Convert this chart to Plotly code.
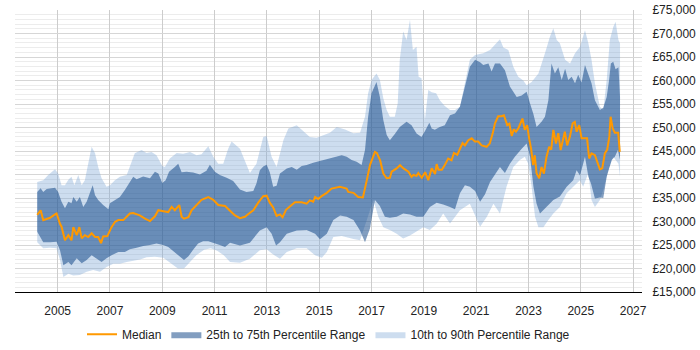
import plotly.graph_objects as go

# ---- Data (decimal years, salary in GBP) ----
median_x = [2004.22, 2004.35, 2004.45, 2004.58, 2004.71, 2004.9, 2004.96, 2005.09, 2005.15, 2005.28,
            2005.41, 2005.53, 2005.6, 2005.73, 2005.83, 2005.92, 2006.04, 2006.17, 2006.3, 2006.43,
            2006.55, 2006.66, 2006.74, 2006.9, 2007.06, 2007.19, 2007.32, 2007.51, 2007.64, 2007.76,
            2007.89, 2008.02, 2008.14, 2008.34, 2008.53, 2008.72, 2008.85, 2009.04, 2009.23, 2009.36,
            2009.48, 2009.65, 2009.74, 2009.83, 2010.0, 2010.12, 2010.31, 2010.5, 2010.76, 2010.95,
            2011.14, 2011.4, 2011.59, 2011.78, 2011.97, 2012.16, 2012.29, 2012.48, 2012.67, 2012.86,
            2012.99, 2013.11, 2013.24, 2013.37, 2013.5, 2013.6, 2013.73, 2013.88, 2014.07, 2014.33,
            2014.52, 2014.64, 2014.77, 2014.84, 2014.96, 2015.09, 2015.29, 2015.47, 2015.79, 2016.05,
            2016.11, 2016.31, 2016.49, 2016.67, 2016.75, 2016.82, 2016.94, 2017.07, 2017.13, 2017.2,
            2017.33, 2017.45, 2017.58, 2017.7, 2017.77, 2017.96, 2018.09, 2018.22, 2018.41, 2018.53,
            2018.6, 2018.72, 2018.79, 2018.92, 2019.05, 2019.17, 2019.3, 2019.43, 2019.49, 2019.56,
            2019.69, 2019.8, 2019.93, 2020.06, 2020.15, 2020.28, 2020.38, 2020.48, 2020.57, 2020.7,
            2020.83, 2020.95, 2021.08, 2021.21, 2021.4, 2021.52, 2021.63, 2021.72, 2021.84, 2021.97,
            2022.06, 2022.14, 2022.19, 2022.27, 2022.36, 2022.44, 2022.52, 2022.61, 2022.67, 2022.77,
            2022.86, 2022.95, 2023.03, 2023.1, 2023.18, 2023.24, 2023.31, 2023.41, 2023.5, 2023.59,
            2023.69, 2023.79, 2023.87, 2023.95, 2024.05, 2024.14, 2024.23, 2024.33, 2024.39, 2024.48,
            2024.58, 2024.69, 2024.77, 2024.84, 2024.94, 2025.03, 2025.15, 2025.24, 2025.32, 2025.41,
            2025.54, 2025.63, 2025.73, 2025.82, 2025.92, 2026.01, 2026.09, 2026.14, 2026.22, 2026.3,
            2026.43, 2026.49]
median = [31400, 32400, 30300, 30500, 30800, 31500, 31700, 29500, 28900, 26000,
          27100, 26000, 28800, 27100, 28800, 26400, 27100, 26700, 27500, 26700,
          26700, 25400, 26800, 26900, 28800, 29900, 30300, 30300, 31000, 31700,
          31800, 31500, 31300, 30600, 30100, 31100, 32400, 32200, 32000, 33100,
          32400, 33500, 31000, 30600, 30900, 32400, 33500, 34600, 35200, 34600,
          33500, 33300, 32300, 31300, 30700, 31000, 31600, 32400, 34000, 35400,
          35500, 34000, 33000, 31200, 31500, 30900, 32500, 33300, 34100, 34100,
          33800, 34500, 34200, 35200, 34800, 35400, 36100, 37000, 37400, 37000,
          36300, 36100, 35200, 35100, 37400, 38800, 42000, 44200, 44800, 44600,
          43000, 40200, 39200, 39300, 40600, 41300, 42000, 41300, 40600, 39500,
          39900, 39700, 40300, 39300, 40500, 38800, 41300, 40100, 42200, 41000,
          41000, 42000, 43400, 43000, 44600, 44200, 45300, 46700, 46200, 47300,
          47700, 47000, 47000, 46200, 45900, 46600, 48700, 50900, 52400, 52400,
          52600, 51200, 50500, 50800, 48200, 49600, 49100, 49800, 50500, 51900,
          49500, 50500, 47500, 45500, 42000, 44100, 40200, 39200, 41600, 40200,
          43800, 45900, 45300, 49500, 46600, 48800, 45200, 47500, 49100, 46200,
          48000, 50900, 51200, 49100, 50500, 47700, 47700, 47700, 43400, 44500,
          44100, 42700, 41100, 41300, 44500, 45300, 48000, 52300, 49800, 48900,
          48900, 44800]

p75_x = [2004.22, 2004.35, 2004.45, 2004.58, 2004.9, 2005.02, 2005.15, 2005.28, 2005.41, 2005.53,
         2005.6, 2005.73, 2005.85, 2005.98, 2006.11, 2006.23, 2006.34, 2006.43, 2006.55, 2006.74,
         2006.94, 2007.0, 2007.19, 2007.38, 2007.57, 2007.76, 2007.89, 2008.02, 2008.27, 2008.53,
         2008.72, 2008.85, 2009.0, 2009.13, 2009.26, 2009.48, 2009.61, 2009.74, 2009.93, 2010.18,
         2010.44, 2010.69, 2010.82, 2011.01, 2011.2, 2011.46, 2011.71, 2011.97, 2012.22, 2012.48,
         2012.6, 2012.73, 2012.86, 2012.99, 2013.11, 2013.24, 2013.37, 2013.5, 2013.76, 2013.95,
         2014.14, 2014.33, 2014.52, 2014.77, 2014.96, 2015.22, 2015.41, 2015.66, 2015.86, 2016.05,
         2016.24, 2016.43, 2016.62, 2016.75, 2016.87, 2017.0, 2017.19, 2017.32, 2017.45, 2017.58,
         2017.7, 2017.89, 2018.08, 2018.34, 2018.53, 2018.72, 2018.91, 2019.04, 2019.21, 2019.3,
         2019.42, 2019.61, 2019.8, 2020.0, 2020.19, 2020.38, 2020.57, 2020.76, 2020.96, 2021.15,
         2021.27, 2021.47, 2021.59, 2021.72, 2021.91, 2022.1, 2022.29, 2022.55, 2022.74, 2022.93,
         2023.06, 2023.19, 2023.31, 2023.5, 2023.63, 2023.76, 2023.88, 2024.01, 2024.14, 2024.27,
         2024.4, 2024.52, 2024.65, 2024.78, 2024.9, 2025.03, 2025.16, 2025.29, 2025.41, 2025.54,
         2025.73, 2025.86, 2025.99, 2026.08, 2026.15, 2026.24, 2026.33, 2026.44, 2026.5]
p75 = [36300, 37100, 36300, 36900, 37200, 36300, 34200, 32800, 34200, 33900,
       35200, 34200, 35200, 33100, 34200, 36300, 37700, 35600, 34600, 33500,
       32600, 33900, 34600, 35200, 36700, 38400, 39500, 39000, 39600, 39200,
       40600, 40200, 38200, 38800, 40600, 41600, 42300, 40500, 40600, 40400,
       40000, 40800, 42100, 40600, 39900, 39300, 38600, 36800, 36300, 36500,
       38100, 40900, 41700, 42100, 40500, 37400, 37600, 40200, 41300, 41600,
       41000, 41800, 42000, 42500, 42800, 43200, 43400, 43800, 44100, 43800,
       43100, 42700, 42000, 45200, 52300, 57300, 59700, 56500, 51600, 48400,
       47300, 48600, 50100, 51200, 50500, 48700, 48000, 49200, 51000, 49800,
       49500, 50100, 50500, 52600, 53000, 54400, 58700, 62900, 64400, 63900,
       63300, 63600, 61900, 63600, 63600, 62200, 58700, 56500, 56800, 57600,
       55100, 52800, 50100, 51200, 52300, 55800, 63600, 61500, 62800, 60100,
       62500, 60100, 60800, 59400, 61200, 59600, 63300, 61200, 59400, 55800,
       53700, 54200, 56500, 60000, 63600, 64000, 62400, 62800, 56500]

p25_x = [2004.22, 2004.45, 2004.71, 2004.96, 2005.09, 2005.22, 2005.41, 2005.53, 2005.73, 2005.92,
         2006.11, 2006.3, 2006.49, 2006.68, 2006.87, 2007.06, 2007.32, 2007.57, 2007.76, 2008.02,
         2008.27, 2008.53, 2008.78, 2009.04, 2009.23, 2009.48, 2009.65, 2009.83, 2010.0, 2010.18,
         2010.37, 2010.56, 2010.76, 2010.95, 2011.2, 2011.4, 2011.59, 2011.97, 2012.35, 2012.73,
         2012.99, 2013.18, 2013.35, 2013.5, 2013.76, 2014.14, 2014.52, 2014.84, 2015.03, 2015.29,
         2015.54, 2015.8, 2016.05, 2016.31, 2016.56, 2016.75, 2016.94, 2017.13, 2017.32, 2017.51,
         2017.7, 2017.96, 2018.21, 2018.47, 2018.72, 2018.98, 2019.23, 2019.49, 2019.74, 2020.0,
         2020.19, 2020.38, 2020.57, 2020.76, 2020.96, 2021.15, 2021.34, 2021.53, 2021.72, 2021.91,
         2022.1, 2022.29, 2022.48, 2022.74, 2022.93, 2023.06, 2023.19, 2023.31, 2023.44, 2023.57,
         2023.69, 2023.95, 2024.2, 2024.46, 2024.71, 2024.84, 2024.97, 2025.16, 2025.29, 2025.39,
         2025.54, 2025.73, 2025.86, 2025.99, 2026.18, 2026.3, 2026.42, 2026.5]
p25 = [27800, 25600, 25600, 25700, 23900, 20700, 21400, 20700, 22200, 21100,
       21800, 22800, 22100, 21400, 22200, 22800, 23500, 23500, 24100, 24400,
       24800, 25000, 25300, 25000, 24600, 23500, 22600, 21800, 22600, 24000,
       25300, 25800, 25800, 25500, 25000, 24600, 25500, 24900, 25500, 28100,
       28800, 27400, 24900, 25600, 27400, 28100, 28200, 27400, 26200, 27400,
       30300, 31300, 31000, 30300, 28100, 25600, 28500, 34600, 33300, 31000,
       30800, 31000, 31700, 31500, 31000, 31000, 33100, 34000, 33600, 33100,
       32600, 36000, 37700, 37400, 36500, 34200, 35800, 38400, 39900, 41600,
       40300, 42300, 43800, 45500, 46600, 43800, 37400, 33800, 31700, 32400,
       33100, 34600, 35300, 37400, 38800, 40900, 39800, 43800, 39500, 38100,
       34900, 35100, 35000, 39500, 43100, 43800, 45200, 43100]

p90_x = [2004.22, 2004.45, 2004.64, 2004.9, 2005.02, 2005.15, 2005.28, 2005.41, 2005.53, 2005.64,
         2005.79, 2005.92, 2006.04, 2006.17, 2006.3, 2006.43, 2006.55, 2006.68, 2006.87, 2007.0,
         2007.19, 2007.38, 2007.64, 2007.95, 2008.21, 2008.4, 2008.59, 2008.78, 2009.0, 2009.1,
         2009.29, 2009.55, 2009.8, 2010.06, 2010.31, 2010.5, 2010.76, 2010.95, 2011.14, 2011.33,
         2011.52, 2011.65, 2011.84, 2011.97, 2012.35, 2012.6, 2012.86, 2012.99, 2013.18, 2013.37,
         2013.63, 2013.82, 2014.14, 2014.33, 2014.64, 2014.9, 2015.16, 2015.41, 2015.67, 2015.99,
         2016.31, 2016.56, 2016.75, 2016.87, 2017.0, 2017.19, 2017.32, 2017.45, 2017.58, 2017.7,
         2017.89, 2018.0, 2018.08, 2018.21, 2018.34, 2018.47, 2018.58, 2018.72, 2018.8, 2018.91,
         2019.04, 2019.17, 2019.3, 2019.47, 2019.61, 2019.8, 2020.0, 2020.19, 2020.38, 2020.57,
         2020.76, 2020.96, 2021.27, 2021.53, 2021.78, 2021.91, 2022.04, 2022.23, 2022.42, 2022.61,
         2022.8, 2022.93, 2023.12, 2023.38, 2023.63, 2023.82, 2023.95, 2024.08, 2024.2, 2024.4,
         2024.59, 2024.78, 2024.97, 2025.16, 2025.29, 2025.41, 2025.54, 2025.73, 2025.86, 2025.99,
         2026.11, 2026.24, 2026.33, 2026.44, 2026.5]
p90 = [38400, 38800, 39900, 41100, 40200, 37700, 37700, 38900, 39500, 37700,
       39900, 37700, 38800, 42300, 45900, 44500, 41600, 39200, 37400, 37700,
       38800, 39500, 39900, 44500, 45200, 44600, 44800, 44100, 41800, 41600,
       43400, 44600, 44400, 44800, 44100, 44300, 46000, 43800, 42300, 42300,
       45500, 47000, 46200, 45500, 40300, 42300, 48000, 48200, 43800, 41600,
       47300, 49800, 50500, 49500, 48000, 47800, 48400, 48900, 50100, 49600,
       48800, 48900, 52300, 57300, 60100, 61500, 60100, 56200, 53700, 52300,
       52300, 55100, 64400, 70400, 68600, 72900, 66500, 67200, 60800, 60500,
       51600, 58000, 57500, 57300, 55800, 54600, 53700, 53700, 54400, 59400,
       64400, 65400, 65800, 66500, 67900, 68800, 67000, 66500, 62900, 60800,
       60000, 59000, 59700, 61500, 65800, 69300, 71100, 68600, 67900, 64400,
       63600, 65800, 67200, 70700, 67900, 64400, 59400, 54400, 53700, 60100,
       68600, 71400, 72500, 68600, 67900]

p10_x = [2004.22, 2004.45, 2004.71, 2004.96, 2005.09, 2005.22, 2005.41, 2005.6, 2005.85, 2006.11,
         2006.36, 2006.62, 2006.87, 2007.13, 2007.38, 2007.64, 2007.89, 2008.15, 2008.4, 2008.72,
         2009.04, 2009.36, 2009.6, 2009.83, 2010.0, 2010.3, 2010.6, 2010.85, 2011.1, 2011.35,
         2011.59, 2011.97, 2012.35, 2012.73, 2012.99, 2013.24, 2013.5, 2013.76, 2014.14, 2014.52,
         2014.84, 2015.1, 2015.29, 2015.54, 2015.86, 2016.31, 2016.56, 2016.82, 2017.07, 2017.26,
         2017.45, 2017.7, 2017.96, 2018.21, 2018.47, 2018.72, 2018.98, 2019.23, 2019.49, 2019.74,
         2020.0, 2020.38, 2020.76, 2021.15, 2021.41, 2021.66, 2021.91, 2022.16, 2022.42, 2022.67,
         2022.86, 2022.99, 2023.12, 2023.25, 2023.38, 2023.57, 2023.76, 2023.95, 2024.2, 2024.46,
         2024.71, 2024.97, 2025.09, 2025.29, 2025.41, 2025.54, 2025.73, 2025.86, 2026.05, 2026.24,
         2026.44, 2026.5]
p10 = [25600, 24300, 24400, 24300, 21800, 18200, 18900, 18500, 18600, 19300,
       19700, 19300, 20300, 21000, 21000, 21400, 21700, 21900, 22400, 22500,
       22300, 21000, 20000, 20000, 21100, 22800, 24000, 24300, 23800, 22800,
       21400, 21200, 22100, 23900, 24100, 23000, 22100, 23500, 24300, 24300,
       22800, 22300, 23500, 26700, 26900, 26300, 26000, 30300, 34600, 31000,
       28800, 28200, 27400, 26400, 27000, 27800, 28800, 28200, 29500, 31700,
       29600, 32400, 33800, 28900, 31000, 33800, 31700, 37400, 41600, 43100,
       43800, 42300, 37400, 31000, 28800, 28800, 30300, 31700, 33100, 36000,
       37400, 38800, 37400, 40300, 34600, 33100, 34600, 36700, 40900, 43800,
       42300, 39500]

year_ticks = [2005, 2007, 2009, 2011, 2013, 2015, 2017, 2019, 2021, 2023, 2025, 2027]
salary_ticks = [15000, 20000, 25000, 30000, 35000, 40000, 45000, 50000, 55000, 60000, 65000, 70000, 75000]
salary_labels = ["\u00a3{:,}".format(v) for v in salary_ticks]

FONT = "Liberation Sans, Arial, sans-serif"

fig = go.Figure()
fig.add_trace(go.Scatter(
    x=p90_x + p10_x[::-1], y=p90 + p10[::-1],
    fill="toself", fillcolor="rgba(130,170,215,0.4)", line=dict(width=0),
    mode="lines", name="10th to 90th Percentile Range", hoverinfo="skip"))
fig.add_trace(go.Scatter(
    x=p75_x + p25_x[::-1], y=p75 + p25[::-1],
    fill="toself", fillcolor="rgba(5,62,130,0.5)", line=dict(width=0),
    mode="lines", name="25th to 75th Percentile Range", hoverinfo="skip"))
fig.add_trace(go.Scatter(
    x=median_x, y=median, mode="lines", name="Median",
    line=dict(color="#ff9900", width=2)))

fig.update_layout(
    width=700, height=350,
    margin=dict(l=15, r=58, t=10, b=58, autoexpand=False),
    paper_bgcolor="white", plot_bgcolor="white",
    font=dict(family=FONT, size=12, color="#222"),
    showlegend=True,
    legend=dict(orientation="h", x=0.5, xanchor="center",
                yref="container", y=0.045, yanchor="middle",
                traceorder="reversed", font=dict(size=12, color="#222")),
)
fig.update_xaxes(
    range=[2003.37, 2027.34], tickmode="array", tickvals=year_ticks,
    ticktext=[str(y) for y in year_ticks],
    showgrid=True, gridcolor="#cccccc", gridwidth=1,
    showline=True, linecolor="#000000", linewidth=1, zeroline=False,
    ticks="outside", ticklen=8, tickcolor="rgba(0,0,0,0)",
    tickfont=dict(size=12, color="#222"))
fig.update_yaxes(
    range=[15000, 75000], side="right", tickmode="array", tickvals=salary_ticks,
    ticktext=salary_labels,
    showgrid=True, gridcolor="#d6d6d6", gridwidth=1,
    minor=dict(dtick=1000, showgrid=True, gridcolor="#ececec", gridwidth=1),
    showline=False, zeroline=False, ticks="outside", ticklen=7, tickcolor="rgba(0,0,0,0)",
    tickfont=dict(size=12, color="#222"))

fig.write_html("out.html")
